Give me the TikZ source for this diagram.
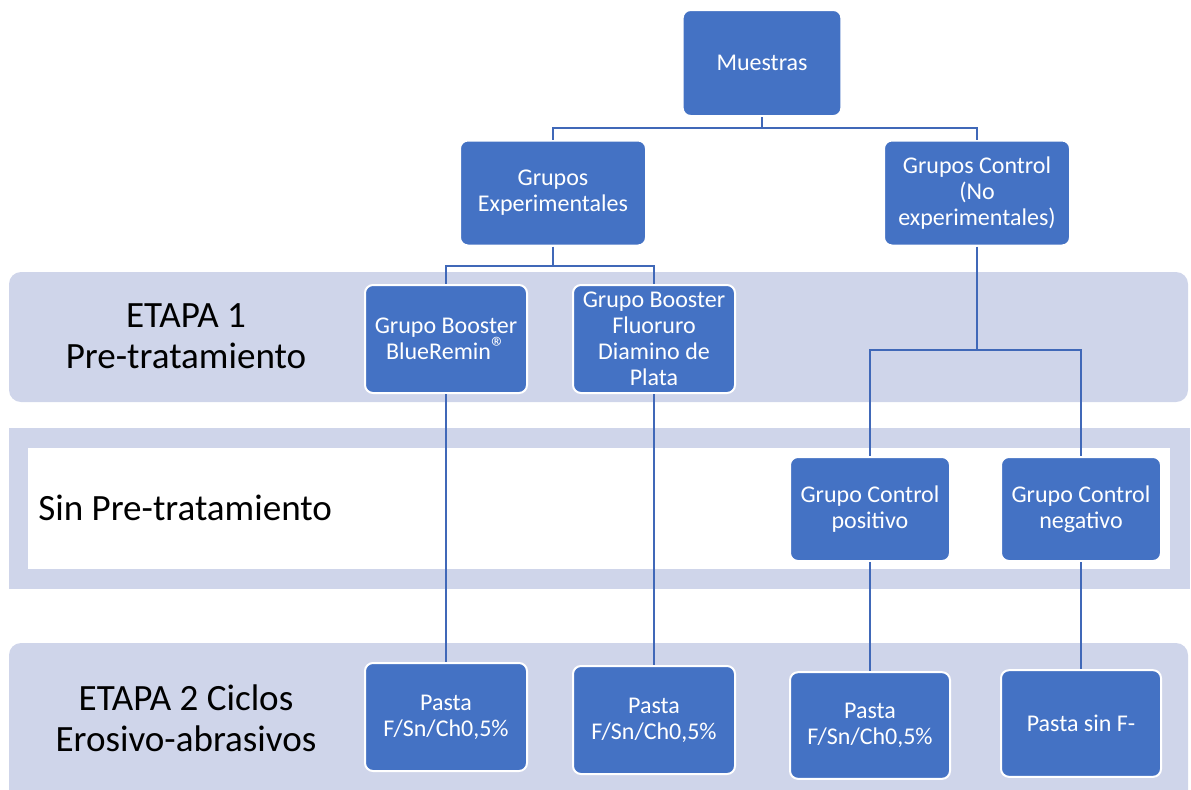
\documentclass[tikz,border=0pt]{standalone}
\usepackage{fontspec}
\setmainfont{Carlito}
\definecolor{boxblue}{HTML}{4472C4}
\definecolor{band}{HTML}{CFD5EA}
\definecolor{linkblue}{HTML}{4068B8}
\newcommand{\regmark}{\smash{\raisebox{0.2ex}{\fontsize{22}{22}\selectfont ®}}}
\begin{document}
\begin{tikzpicture}[x=0.75pt,y=-0.75pt,
  box/.style={rectangle, rounded corners=6pt, fill=boxblue, draw=white, line width=1.5pt,
    text=white, align=center, inner sep=0pt, font=\fontsize{18}{19.5}\selectfont},
  bandtext/.style={align=center, inner sep=0pt, font=\fontsize{27.8}{31}\selectfont, text=black},
  conn/.style={draw=linkblue, line width=1.4pt}]
\useasboundingbox (0,0) rectangle (1191,789);
% bands
\fill[band, rounded corners=9pt] (9,272) rectangle (1188,402);
\fill[band] (9,428) rectangle (1190,589);
\fill[white] (28,448) rectangle (1170,569);
\fill[band, rounded corners=9pt] (9,643) rectangle (1188,820);
% band labels
\node[bandtext] (l1) at (186,336) {ETAPA 1\\Pre-tratamiento};
\node[bandtext, anchor=west] (l2) at (38,508) {Sin Pre-tratamiento};
\node[bandtext] (l3) at (186,718) {ETAPA 2 Ciclos\\Erosivo-abrasivos};
% boxes
\node[box, minimum width=119pt, minimum height=79.5pt] (m) at (762,63) {Muestras};
\node[box, minimum width=139.5pt, minimum height=78.75pt] (ge) at (553,193) {Grupos\\Experimentales};
\node[box, minimum width=139.5pt, minimum height=78.75pt] (gc) at (977,193) {Grupos Control\\(No\\experimentales)};
\node[box, minimum width=121.5pt, minimum height=81pt] (b1) at (446,339) {Grupo Booster\\BlueRemin\regmark};
\node[box, minimum width=121.5pt, minimum height=81pt] (b2) at (654,339) {Grupo Booster\\Fluoruro\\Diamino de\\Plata};
\node[box, minimum width=120pt, minimum height=78pt] (cp) at (870,509) {Grupo Control\\positivo};
\node[box, minimum width=120pt, minimum height=78pt] (cn) at (1081,509) {Grupo Control\\negativo};
\node[box, minimum width=121.5pt, minimum height=81pt] (p1) at (446,717) {Pasta\\F/Sn/Ch0,5\%};
\node[box, minimum width=121.5pt, minimum height=81pt] (p2) at (654,720) {Pasta\\F/Sn/Ch0,5\%};
\node[box, minimum width=120pt, minimum height=80pt] (p3) at (870,725.5) {Pasta\\F/Sn/Ch0,5\%};
\node[box, minimum width=120pt, minimum height=80pt] (p4) at (1081,723.5) {Pasta sin F-};
% connectors
\coordinate (j1) at (762,128);
\coordinate (j2) at (553,266);
\coordinate (j3) at (977,350);
\draw[conn] (m.south) -- (j1) -| (ge.north);
\draw[conn] (j1) -| (gc.north);
\draw[conn] (ge.south) -- (j2) -| (b1.north);
\draw[conn] (j2) -| (b2.north);
\draw[conn] (gc.south) -- (j3) -| (cp.north);
\draw[conn] (j3) -| (cn.north);
\draw[conn] (b1.south) -- (p1.north);
\draw[conn] (b2.south) -- (p2.north);
\draw[conn] (cp.south) -- (p3.north);
\draw[conn] (cn.south) -- (p4.north);
\end{tikzpicture}
\end{document}
